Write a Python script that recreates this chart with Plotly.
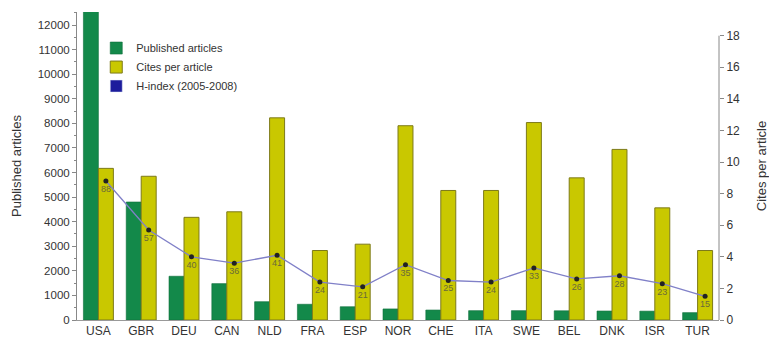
import plotly.graph_objects as go

countries = ["USA", "GBR", "DEU", "CAN", "NLD", "FRA", "ESP", "NOR",
             "CHE", "ITA", "SWE", "BEL", "DNK", "ISR", "TUR"]
published = [12600, 4800, 1780, 1480, 745, 640, 540, 450,
             405, 380, 380, 375, 365, 360, 300]
cites_per_article = [9.6, 9.1, 6.5, 6.85, 12.8, 4.4, 4.8, 12.3,
                     8.2, 8.2, 12.5, 9.0, 10.8, 7.1, 4.4]
h_index = [88, 57, 40, 36, 41, 24, 21, 35, 25, 24, 33, 26, 28, 23, 15]

idx = list(range(len(countries)))
bar_w = 0.35
x_pub = [i - bar_w / 2 for i in idx]
x_cite = [i + bar_w / 2 for i in idx]

GREEN = "#13894a"
YELLOW = "#c9c800"
FONT = "Liberation Sans, Arial, sans-serif"

fig = go.Figure()

fig.add_trace(go.Bar(
    x=x_pub, y=published, width=bar_w, name="Published articles",
    marker=dict(color=GREEN, line=dict(color="#0d6e3a", width=0.6)),
    yaxis="y",
))
fig.add_trace(go.Bar(
    x=x_cite, y=cites_per_article, width=bar_w, name="Cites per article",
    marker=dict(color=YELLOW, line=dict(color="#7d7a1a", width=1)),
    yaxis="y2",
))
# legend swatch for the H-index series
fig.add_trace(go.Bar(
    x=[None], y=[None], name="H-index (2005-2008)",
    marker=dict(color="#1c1c9c"), yaxis="y2",
))
# H-index line, scaled by 1/10 onto the right axis
fig.add_trace(go.Scatter(
    x=x_cite, y=[h / 10 for h in h_index], yaxis="y2",
    mode="lines+markers+text", showlegend=False,
    line=dict(color="#8080c8", width=1.3),
    marker=dict(color="#222222", size=5),
    text=[str(h) for h in h_index], textposition="bottom center",
    textfont=dict(size=9, color="#6a6a3a", family=FONT),
))

fig.add_shape(type="line", xref="paper", yref="y2", x0=1, x1=1, y0=0, y1=18,
              line=dict(color="#888888", width=1))

fig.update_layout(
    width=769, height=342,
    margin=dict(l=77, r=50, t=12, b=22),
    paper_bgcolor="white", plot_bgcolor="white",
    barmode="overlay",
    font=dict(family=FONT, size=12, color="#333333"),
    legend=dict(x=0.03, y=0.93, xanchor="left", yanchor="top",
                bgcolor="rgba(0,0,0,0)", font=dict(size=11, color="#333333"),
                itemwidth=30, tracegroupgap=0),
    xaxis=dict(
        range=[-0.5, len(countries) - 0.5], automargin=False,
        tickvals=idx, ticktext=countries, ticks="",
        showgrid=False, zeroline=False,
        showline=True, linecolor="#999999", linewidth=1,
        tickfont=dict(size=12, color="#333333"),
    ),
    yaxis=dict(
        range=[0, 12530], tick0=0, dtick=1000, tickformat="d",
        automargin=False,
        ticks="outside", ticklen=4, tickcolor="#888888",
        minor=dict(dtick=500, ticks="outside", ticklen=2, tickcolor="#888888"),
        showgrid=False, zeroline=False,
        showline=True, linecolor="#888888", linewidth=1,
        tickfont=dict(size=11.5, color="#333333"),
        title=dict(text="Published articles", font=dict(size=13, color="#333333"),
                   standoff=13),
    ),
    yaxis2=dict(
        overlaying="y", side="right", automargin=False,
        range=[0, 19.5], tickvals=list(range(0, 19, 2)),
        ticks="outside", ticklen=4, tickcolor="#888888",
        showgrid=False, zeroline=False, showline=False,
        tickfont=dict(size=12, color="#333333"),
        title=dict(text="Cites per article", font=dict(size=13, color="#333333"),
                   standoff=26),
    ),
)

fig.write_html("out.html")
